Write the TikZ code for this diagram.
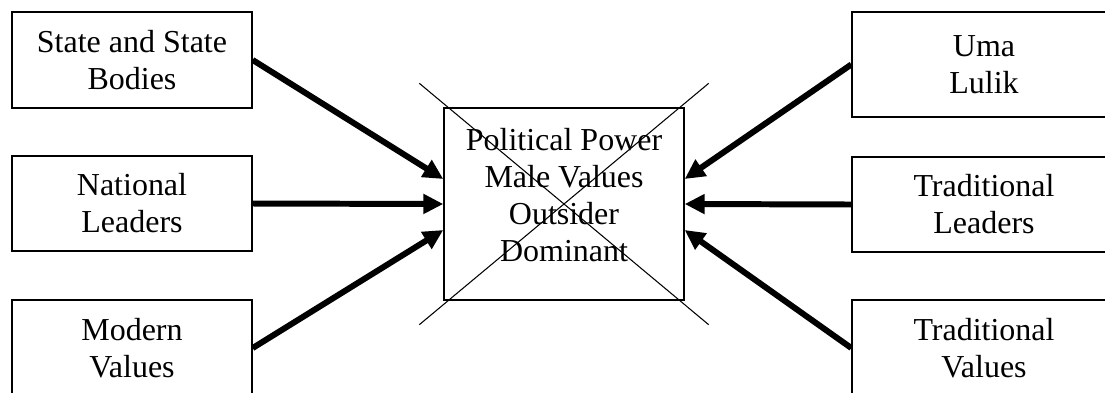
\documentclass[tikz,border=0pt]{standalone}
\usepackage{fontspec}
\setmainfont{Liberation Serif}
\usetikzlibrary{arrows.meta,positioning,calc}

\begin{document}
\begin{tikzpicture}[
  every node/.style={font=\fontsize{18.2}{21}\selectfont},
  box/.style={draw, line width=0.8pt, inner sep=0pt, minimum height=1.92cm,
              align=center},
  lbox/.style={box, minimum width=4.8cm},
  rbox/.style={box, minimum width=5.28cm},
  arr/.style={-{Triangle[length=4mm, width=3.8mm]}, line width=3.4pt},
  xline/.style={line width=0.6pt}
]
\useasboundingbox (0,0) rectangle (22.1,-7.84);

% outside influences
\node[lbox] (state) at (2.64,-1.2)  {State and State\\Bodies};
\node[lbox, minimum height=1.9cm] (natl) at (2.64,-4.07) {National\\Leaders};
\node[lbox] (modern) at (2.64,-6.96) {Modern\\Values};

\node[rbox, minimum height=2.1cm] (uma) at (19.68,-1.29) {Uma\\Lulik};
\node[rbox, minimum height=1.9cm] (tradl) at (19.68,-4.09) {Traditional\\Leaders};
\node[rbox] (tradv) at (19.68,-6.96) {Traditional\\Values};

% crossed-out centre
\node[box, minimum width=4.8cm, minimum height=3.84cm] (ctr) at (11.28,-4.08) {};
\node[anchor=north, inner sep=0pt, align=center] (ctrtxt) at (11.28,-2.56)
  {Political Power\\Male Values\\Outsider\\Dominant};
\draw[xline] ($(ctr.north west)+(-0.48,0.48)$) -- ($(ctr.south east)+(0.48,-0.48)$);
\draw[xline] ($(ctr.north east)+(0.48,0.48)$) -- ($(ctr.south west)+(-0.48,-0.48)$);

\draw[arr] (state.east)  -- ([yshift=0.5cm]ctr.west);
\draw[arr] (natl.east)   -- (ctr.west);
\draw[arr] (modern.east) -- ([yshift=-0.52cm]ctr.west);

\draw[arr] (uma.west)   -- ([yshift=0.5cm]ctr.east);
\draw[arr] (tradl.west) -- (ctr.east);
\draw[arr] (tradv.west) -- ([yshift=-0.52cm]ctr.east);
\end{tikzpicture}
\end{document}
